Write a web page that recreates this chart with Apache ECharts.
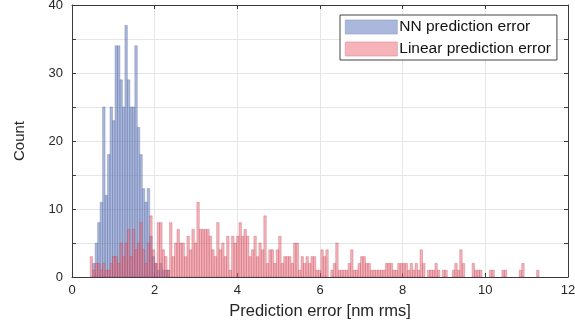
<!DOCTYPE html>
<html>
<head>
<meta charset="utf-8">
<script src="https://cdn.jsdelivr.net/npm/echarts@6/dist/echarts.min.js"></script>
<style>
html,body{margin:0;padding:0;background:#fff;}
#c{width:575px;height:320px;}
</style>
</head>
<body>
<div id="c"></div>
<script>
// ---- data ----
var binWidth = 0.06;
var nnStart = 0.44;
var nnCounts = [0,2,5,8,11,25,12,18,25,23,34,34,29,25,37,29,25,25,34,22,18,13,11,13,6,3,2,1,2,1,1,1];
var linStart = 0.44;
var linCounts = [
  3,1,2,2,1,2,1,1,2,3,3,2,5,3,5,7,3,7,4,5,8,4,2,5,9,4,2,8,
  8,4,3,1,8,3,5,7,5,5,3,6,4,7,5,11,7,7,7,7,6,4,3,8,4,5,3,6,1,6,5,6,8,6,7,6,3,4,6,3,5,4,9,2,4,4,2,4,6,2,3,3,
  3,2,5,5,1,3,2,3,2,3,3,1,1,4,3,4,0,1,2,5,1,1,1,1,2,4,1,1,2,3,3,2,2,1,1,1,1,1,1,2,2,2,1,1,2,2,2,2,1,
  2,1,2,1,4,2,0,1,1,1,2,1,0,1,1,0,0,1,2,1,4,2,0,0,0,2,1,1,1,0,0,0,1,1,0,0,0,1,1,0,0,0,0,0,1,2,0,0,0,0,0,1
];
var xTicks = [0,2,4,6,8,10,12];
var seriesNames = ['NN prediction error','Linear prediction error'];

function toBins(start, counts){
  var out = [];
  for (var i=0;i<counts.length;i++){
    if (counts[i] > 0) {
      var a = +(start + i*binWidth).toFixed(4);
      out.push([a, +(a+binWidth).toFixed(4), counts[i]]);
    }
  }
  return out;
}

function makeRender(edge){
  return function(params, api){
    var x0 = api.value(0), x1 = api.value(1), c = api.value(2);
    var p0 = api.coord([x0, c]);
    var p1 = api.coord([x1, 0]);
    return {
      type:'rect',
      shape:{x:p0[0], y:p0[1], width:p1[0]-p0[0], height:p1[1]-p0[1]},
      style:{fill: api.visual('color'), stroke: edge, lineWidth: 0.6}
    };
  };
}

var font = 'Liberation Sans, Arial, Helvetica, sans-serif';
var axisCol = '#3a3a3a';
var chart = echarts.init(document.getElementById('c'), null, {renderer:'canvas'});
chart.setOption({
  animation:false,
  backgroundColor:'#fff',
  grid:{left:72, top:5, width:496, height:272, containLabel:false, outerBoundsMode:'none'},
  legend:{
    left:340, top:15, orient:'vertical',
    padding:[4,6,3,5], itemGap:6, itemWidth:52, itemHeight:14,
    borderColor:'#444', borderWidth:1, backgroundColor:'#fff',
    icon:'rect',
    textStyle:{fontFamily:font, fontSize:15.5, color:'#111', padding:[0,0,0,-3]},
    data:[
      {name:seriesNames[0], itemStyle:{color:'#aab8dc', borderColor:'#8c9ccb', borderWidth:0.6}},
      {name:seriesNames[1], itemStyle:{color:'#f6b3ba', borderColor:'#d98b94', borderWidth:0.6}}
    ]
  },
  xAxis:[{
    type:'value', min:0, max:12, interval:2,
    axisLine:{show:true, onZero:false, lineStyle:{color:axisCol}},
    axisTick:{show:true, inside:true, length:4, lineStyle:{color:axisCol}},
    axisLabel:{fontFamily:font, fontSize:13, color:'#262626', margin:7},
    splitLine:{show:true, lineStyle:{color:'#e6e6e6'}},
    name:'Prediction error [nm rms]', nameLocation:'middle', nameGap:26,
    nameTextStyle:{fontFamily:font, fontSize:16.5, color:'#262626'}
  },{
    type:'value', min:0, max:12, interval:2, position:'top',
    axisLine:{show:true, onZero:false, lineStyle:{color:axisCol}},
    axisTick:{show:true, inside:true, length:4, lineStyle:{color:axisCol}},
    axisLabel:{show:false}, splitLine:{show:false}
  }],
  yAxis:[{
    type:'value', min:0, max:40, interval:5,
    axisLine:{show:true, onZero:false, lineStyle:{color:axisCol}},
    axisTick:{show:true, inside:true, length:4, lineStyle:{color:axisCol}},
    axisLabel:{fontFamily:font, fontSize:13, color:'#262626', margin:9,
      formatter:function(v){return v%10===0? String(v):'';}},
    splitLine:{show:true, lineStyle:{color:'#e6e6e6'}},
    name:'Count', nameLocation:'middle', nameGap:45, nameRotate:90,
    nameTextStyle:{fontFamily:font, fontSize:15, color:'#262626'}
  },{
    type:'value', min:0, max:40, interval:5, position:'right',
    axisLine:{show:true, onZero:false, lineStyle:{color:axisCol}},
    axisTick:{show:true, inside:true, length:4, lineStyle:{color:axisCol}},
    axisLabel:{show:false}, splitLine:{show:false}
  }],
  series:[{
    name:seriesNames[0], type:'custom',
    renderItem: makeRender('rgba(90,105,160,0.55)'),
    itemStyle:{color:'rgba(85,113,185,0.5)'},
    encode:{x:[0,1], y:2},
    data: toBins(nnStart, nnCounts), z:2
  },{
    name:seriesNames[1], type:'custom',
    renderItem: makeRender('rgba(175,60,75,0.45)'),
    itemStyle:{color:'rgba(236,100,115,0.5)'},
    encode:{x:[0,1], y:2},
    data: toBins(linStart, linCounts), z:3
  }]
});
</script>
</body>
</html>
